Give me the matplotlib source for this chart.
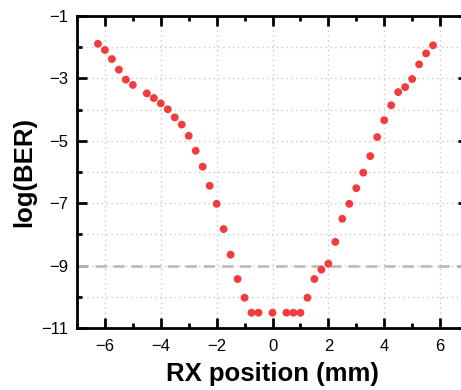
import matplotlib.pyplot as plt
from matplotlib.ticker import MultipleLocator

plt.rcParams['font.family'] = ['Liberation Sans', 'DejaVu Sans']

# receiver offset (mm) and measured log10(BER)
rx_pos = [-6.25, -6.0, -5.75, -5.5, -5.25, -5.0, -4.5, -4.25, -4.0, -3.75,
          -3.5, -3.25, -3.0, -2.75, -2.5, -2.25, -2.0, -1.75, -1.5, -1.25,
          -1.0, -0.75, -0.5, 0.0, 0.5, 0.75, 1.0, 1.25, 1.5, 1.75,
          2.0, 2.25, 2.5, 2.75, 3.0, 3.25, 3.5, 3.75, 4.0, 4.25,
          4.5, 4.75, 5.0, 5.25, 5.5, 5.75]
log_ber = [-1.89, -2.09, -2.38, -2.72, -3.04, -3.21, -3.48, -3.63, -3.80, -3.99,
           -4.25, -4.48, -4.84, -5.32, -5.83, -6.44, -7.02, -7.83, -8.65, -9.43,
           -10.03, -10.51, -10.51, -10.51, -10.51, -10.51, -10.51, -10.03, -9.43, -9.13,
           -8.94, -8.24, -7.50, -7.02, -6.52, -6.02, -5.49, -4.88, -4.34, -3.86,
           -3.44, -3.28, -3.02, -2.55, -2.20, -1.94]
threshold = -9

fig = plt.figure(figsize=(4.61, 3.90), dpi=100)
ax = fig.add_axes([77 / 461, 62 / 390, 391 / 461, 312 / 390])

ax.axhline(threshold, color='#bdbdbd', lw=2, ls=(0, (4, 2.5)), zorder=2)
ax.scatter(rx_pos, log_ber, s=32, color='#f03c3c', edgecolors='none', zorder=3)

ax.set_xlim(-7, 7)
ax.set_ylim(-11, -1)
ax.xaxis.set_major_locator(MultipleLocator(2))
ax.xaxis.set_minor_locator(MultipleLocator(1))
ax.set_yticks([-1, -3, -5, -7, -9, -11])
ax.set_yticks([-2, -4, -6, -8, -10], minor=True)

ax.grid(True, which='major', axis='x', ls=(0, (1, 2.5)), color='#c8c8c8', lw=1)
ax.grid(True, which='both', axis='y', ls=(0, (1, 2.5)), color='#c8c8c8', lw=1)
ax.set_axisbelow(True)

for sp in ax.spines.values():
    sp.set_linewidth(2)
ax.tick_params(which='both', direction='in', top=True, right=True, width=2,
               labelsize=12)
ax.tick_params(axis='x', pad=8)
ax.tick_params(axis='y', pad=6)
ax.tick_params(which='major', length=7)
ax.tick_params(which='minor', length=3.5)

ax.set_xlabel('RX position (mm)', fontsize=18.5, fontweight='bold', labelpad=6)
ax.set_ylabel('log(BER)', fontsize=18.5, fontweight='bold', labelpad=4)

fig.savefig('out.png', dpi=100)
